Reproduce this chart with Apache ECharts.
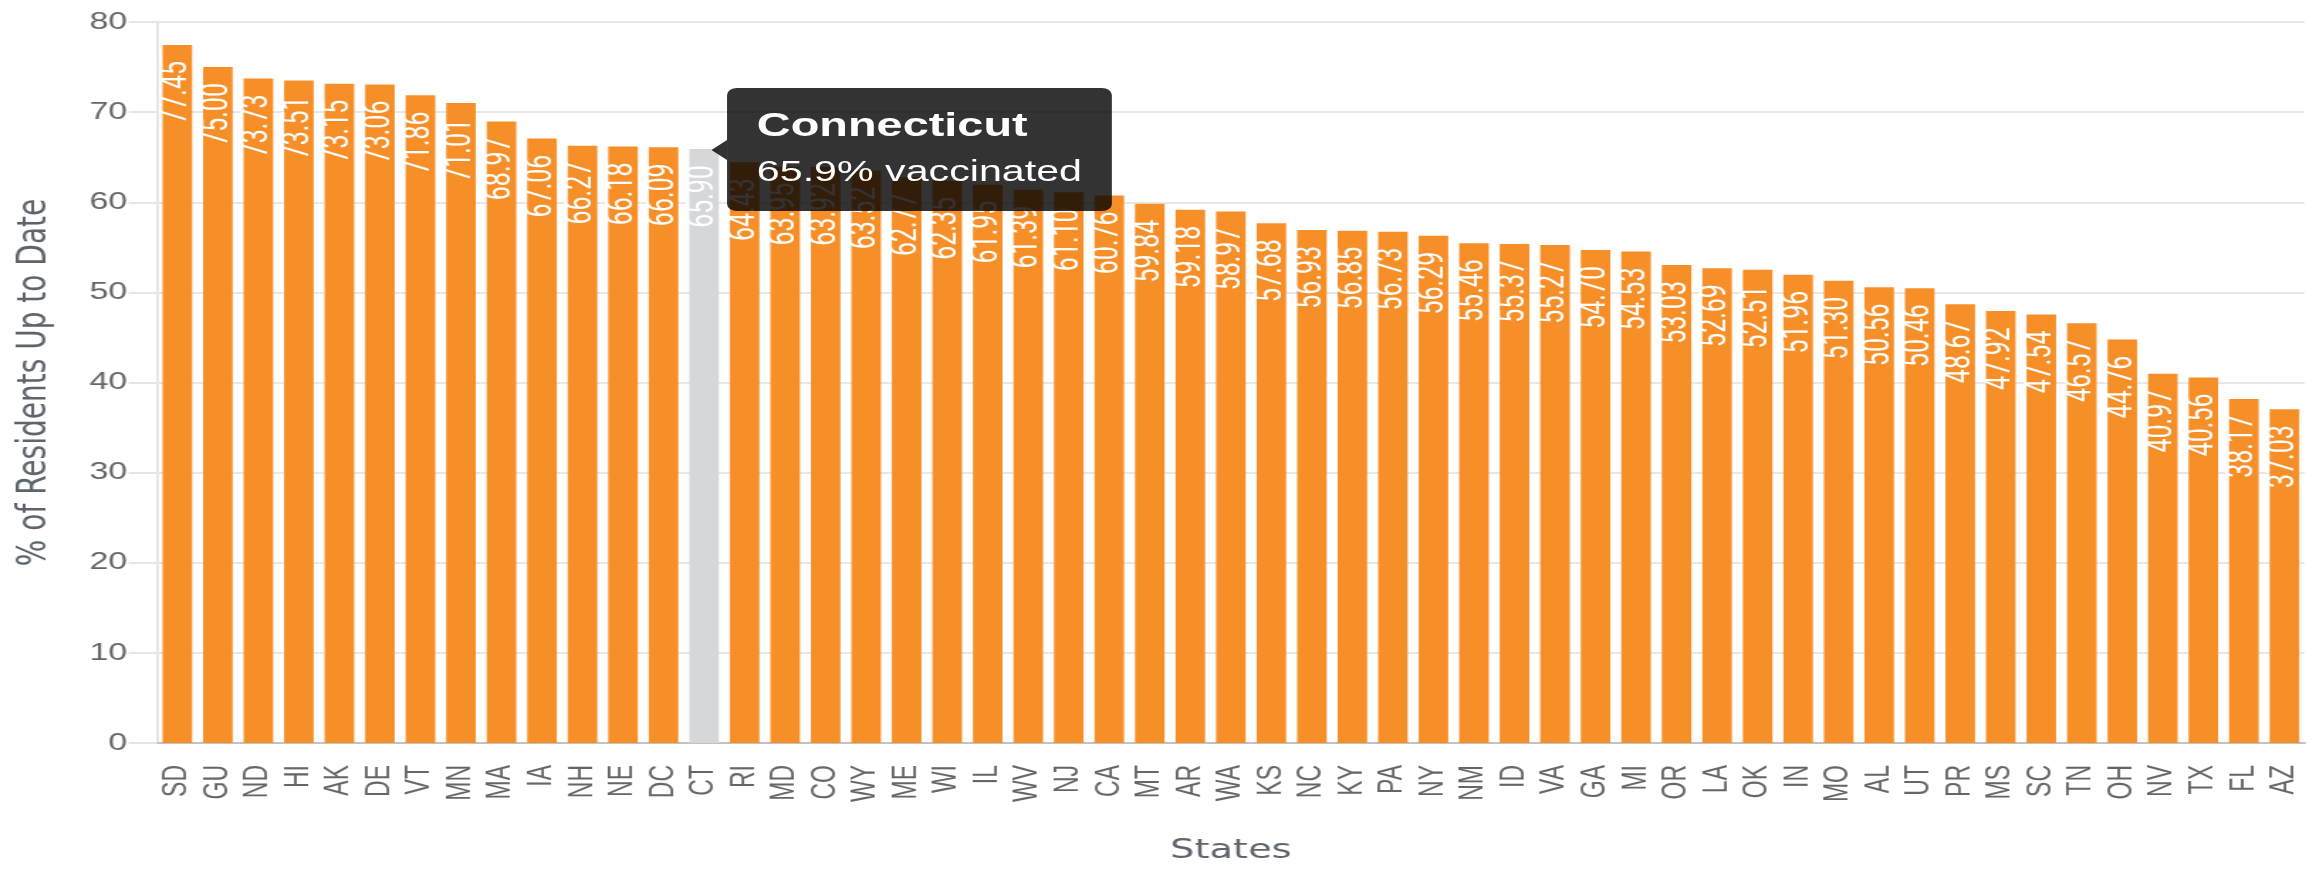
<!DOCTYPE html>
<html>
<head>
<meta charset="utf-8">
<title>% of Residents Up to Date</title>
<script src="https://cdn.jsdelivr.net/npm/echarts@6/dist/echarts.min.js"></script>
<style>
  html, body { margin: 0; padding: 0; background: #fff; overflow: hidden; }
  /* the reference is stretched sideways, so draw narrower and stretch */
  #chart { width: 1629px; height: 869px; transform: scaleX(1.42); transform-origin: 0 0; }
</style>
</head>
<body>
<div id="chart"></div>
<script>
// state codes, sorted by share of residents up to date
const states = ['SD', 'GU', 'ND', 'HI', 'AK', 'DE', 'VT', 'MN', 'MA', 'IA', 'NH', 'NE', 'DC', 'CT',
  'RI', 'MD', 'CO', 'WY', 'ME', 'WI', 'IL', 'WV', 'NJ', 'CA', 'MT', 'AR', 'WA', 'KS', 'NC', 'KY',
  'PA', 'NY', 'NM', 'ID', 'VA', 'GA', 'MI', 'OR', 'LA', 'OK', 'IN', 'MO', 'AL', 'UT', 'PR', 'MS',
  'SC', 'TN', 'OH', 'NV', 'TX', 'FL', 'AZ']

const stateNames = ['South Dakota', 'Guam', 'North Dakota', 'Hawaii', 'Alaska', 'Delaware', 'Vermont',
  'Minnesota', 'Massachusetts', 'Iowa', 'New Hampshire', 'Nebraska', 'District of Columbia', 'Connecticut',
  'Rhode Island', 'Maryland', 'Colorado', 'Wyoming', 'Maine', 'Wisconsin', 'Illinois', 'West Virginia',
  'New Jersey', 'California', 'Montana', 'Arkansas', 'Washington', 'Kansas', 'North Carolina', 'Kentucky',
  'Pennsylvania', 'New York', 'New Mexico', 'Idaho', 'Virginia', 'Georgia', 'Michigan', 'Oregon',
  'Louisiana', 'Oklahoma', 'Indiana', 'Missouri', 'Alabama', 'Utah', 'Puerto Rico', 'Mississippi',
  'South Carolina', 'Tennessee', 'Ohio', 'Nevada', 'Texas', 'Florida', 'Arizona']

// % vaccinated
const upToDate = [77.45, 75.00, 73.73, 73.51, 73.15, 73.06, 71.86, 71.01, 68.97, 67.06, 66.27, 66.18,
  66.09, 65.90, 64.43, 63.95, 63.92, 63.52, 62.77, 62.35, 61.95, 61.39, 61.10, 60.76, 59.84, 59.18,
  58.97, 57.68, 56.93, 56.85, 56.73, 56.29, 55.46, 55.37, 55.27, 54.70, 54.53, 53.03, 52.69, 52.51,
  51.96, 51.30, 50.56, 50.46, 48.67, 47.92, 47.54, 46.57, 44.76, 40.97, 40.56, 38.17, 37.03]

const hovered = states.indexOf('CT')

const chart = echarts.init(document.getElementById('chart'))

const option = {
  animation: false,
  grid: { left: 110.6, right: 6, top: 22, bottom: 125 },
  tooltip: {
    trigger: 'item',
    triggerOn: 'none',
    alwaysShowContent: true,
    transitionDuration: 0,
    backgroundColor: 'rgba(0,0,0,0.8)',
    borderWidth: 0,
    borderRadius: 7,
    padding: [17, 21, 22, 21],
    extraCssText: 'box-shadow:none;',
    formatter: function (p) {
      const caret = '<div style="position:absolute;left:-11px;top:50%;margin-top:-10px;width:0;height:0;' +
        'border-top:10px solid transparent;border-bottom:10px solid transparent;' +
        'border-right:11px solid rgba(0,0,0,0.8);"></div>'
      return caret +
        '<div style="font:bold 33px \'Liberation Sans\',Arial,sans-serif;color:#fff;line-height:40px;margin-bottom:8px;">' +
        stateNames[p.dataIndex] + '</div>' +
        '<div style="font:29px \'Liberation Sans\',Arial,sans-serif;color:#fff;line-height:36px;">' +
        p.value.toFixed(1) + '% vaccinated</div>'
    },
    position: function (point, params, dom, rect, size) {
      if (!rect) return [point[0] + 16, point[1] - size.contentSize[1] / 2]
      return [rect.x + rect.width / 2 + 16, rect.y - size.contentSize[1] / 2]
    }
  },
  xAxis: {
    type: 'category',
    data: states,
    name: 'States',
    nameLocation: 'middle',
    nameGap: 94,
    nameTextStyle: { fontFamily: 'DejaVu Sans', fontSize: 27, color: '#5d646c' },
    axisLine: { lineStyle: { color: '#c2c2c2', width: 2 } },
    axisTick: { show: false },
    axisLabel: {
      rotate: 90,
      interval: 0,
      margin: 22,
      fontFamily: 'Liberation Sans',
      fontSize: 23,
      color: '#666'
    },
    splitLine: { show: false }
  },
  yAxis: {
    type: 'value',
    min: 0,
    max: 80,
    interval: 10,
    name: '% of Residents Up to Date',
    nameLocation: 'middle',
    nameGap: 72,
    nameTextStyle: { fontFamily: 'DejaVu Sans', fontSize: 28, color: '#5d646c' },
    axisLine: { show: true, lineStyle: { color: '#e6e6e6', width: 2 } },
    axisTick: { show: true, length: 20, lineStyle: { color: '#e6e6e6', width: 2 } },
    axisLabel: { margin: 21, fontFamily: 'Liberation Sans', fontSize: 24, color: '#666' },
    splitLine: { lineStyle: { color: '#e8e8e8', width: 2 } }
  },
  series: [
    {
      type: 'bar',
      barCategoryGap: '27%',
      data: upToDate.map((v, i) => (
        i === hovered ? { value: v, itemStyle: { color: '#d5d7da' } } : v
      )),
      itemStyle: { color: '#f78f29' },
      label: {
        show: true,
        position: 'insideTop',
        rotate: 90,
        align: 'right',
        verticalAlign: 'middle',
        distance: 16,
        fontFamily: 'Roboto',
        fontSize: 25,
        color: '#fff',
        formatter: p => p.value.toFixed(2)
      },
      emphasis: { disabled: true }
    }
  ]
}

chart.setOption(option)
chart.dispatchAction({ type: 'showTip', seriesIndex: 0, dataIndex: hovered })
</script>
</body>
</html>
